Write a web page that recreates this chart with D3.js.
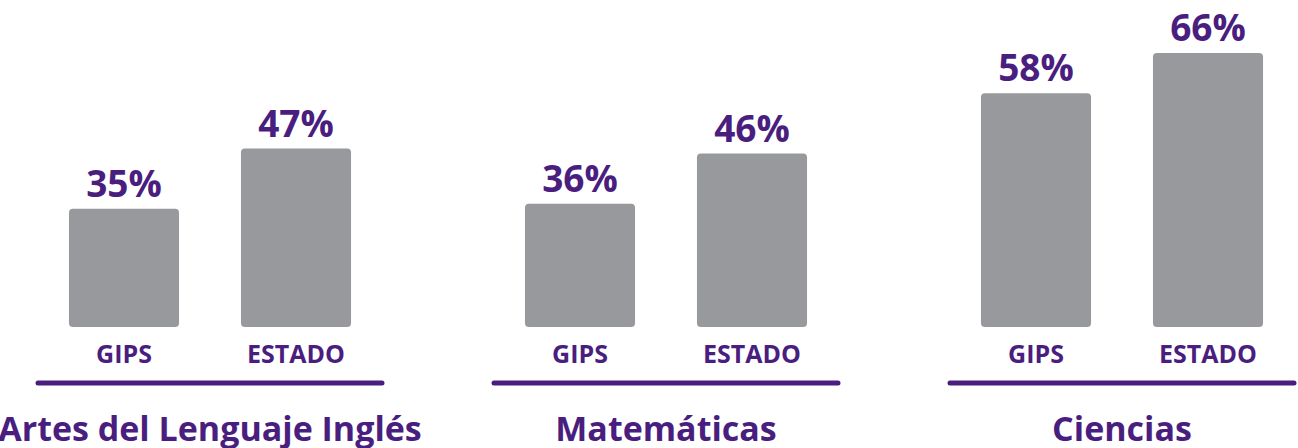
<!DOCTYPE html>
<html>
<head>
<meta charset="utf-8">
<script src="https://cdn.jsdelivr.net/npm/d3@7"></script>
<style>
  body { margin: 0; background: #fff; }
  svg { display: block; font-family: "Open Sans", sans-serif; }
</style>
</head>
<body>
<script>
const subjects = ['Artes del Lenguaje Inglés', 'Matemáticas', 'Ciencias']
const seriesNames = ['GIPS', 'ESTADO']
const gipsValues = [35, 36, 58]
const estadoValues = [47, 46, 66]

const width = 1298, height = 448
const purple = '#4a1e7f', grey = '#98999d'

const svg = d3.select('body').append('svg')
  .attr('width', width)
  .attr('height', height)

// group positions
const x0 = d3.scaleBand().domain(subjects).range([-18, 1350])
const x1 = d3.scaleBand().domain(seriesNames).range([56, 400])
  .paddingInner(0.36).paddingOuter(0.18)
const y = d3.scaleLinear().domain([11.5, 66]).range([327, 53])

const rows = subjects.map((s, i) => ({
  subject: s,
  vals: [{ key: 'GIPS', v: gipsValues[i] }, { key: 'ESTADO', v: estadoValues[i] }]
}))

const groups = svg.selectAll('g.grp').data(rows).join('g')
  .classed('grp', true)
  .attr('transform', d => `translate(${x0(d.subject)},0)`)

groups.selectAll('rect').data(d => d.vals).join('rect')
  .attr('x', d => x1(d.key))
  .attr('width', x1.bandwidth())
  .attr('y', d => y(d.v))
  .attr('height', d => y.range()[0] - y(d.v))
  .attr('rx', 4)
  .attr('fill', grey)

groups.selectAll('text.val').data(d => d.vals).join('text')
  .classed('val', true)
  .attr('x', d => x1(d.key) + x1.bandwidth() / 2)
  .attr('y', d => y(d.v) - 12)
  .attr('text-anchor', 'middle')
  .attr('font-size', 37)
  .attr('font-weight', 700)
  .attr('fill', purple)
  .text(d => d.v + '%')

groups.selectAll('text.cat').data(d => d.vals).join('text')
  .classed('cat', true)
  .attr('x', d => x1(d.key) + x1.bandwidth() / 2)
  .attr('y', 363)
  .attr('text-anchor', 'middle')
  .attr('font-size', 25)
  .attr('font-weight', 700)
  .attr('fill', purple)
  .text(d => d.key)

const mid = x0.bandwidth() / 2
groups.append('line')
  .attr('x1', mid - 172).attr('x2', mid + 172)
  .attr('y1', 383).attr('y2', 383)
  .attr('stroke', purple)
  .attr('stroke-width', 5)
  .attr('stroke-linecap', 'round')

groups.append('text')
  .attr('x', mid)
  .attr('y', 441)
  .attr('text-anchor', 'middle')
  .attr('font-size', 34)
  .attr('font-weight', 700)
  .attr('fill', purple)
  .text(d => d.subject)
</script>
</body>
</html>
